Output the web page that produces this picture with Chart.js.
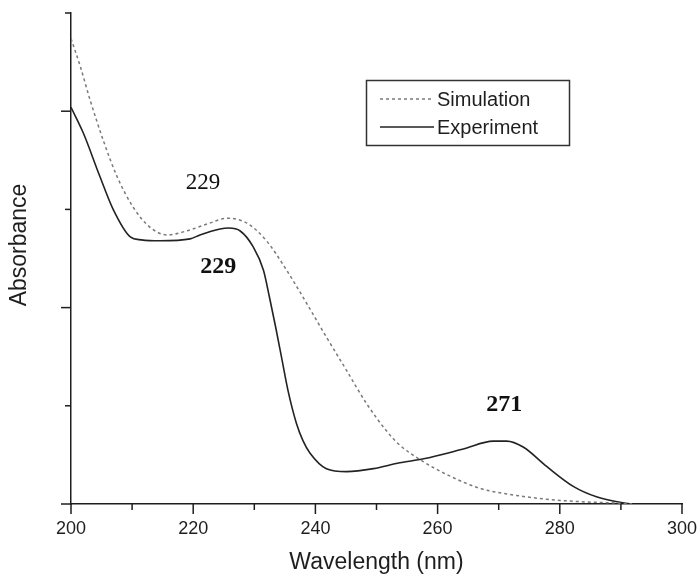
<!DOCTYPE html>
<html>
<head>
<meta charset="utf-8">
<script src="https://cdn.jsdelivr.net/npm/chart.js@4.4.1/dist/chart.umd.min.js"></script>
<style>
  html, body { margin: 0; padding: 0; background: #fff; }
  #wrap { width: 697px; height: 576px; }
</style>
</head>
<body>
<div id="wrap"><canvas id="chart" width="697" height="576"></canvas></div>
<script>
// Experiment spectrum
const expWavelength = [200, 202, 204.7, 206.9, 209.7, 211.5, 214.6, 219.5, 221.1, 224.4, 225.8, 227.7, 229.8, 231.5, 232.5, 233.5, 234.5, 235.5, 236.9, 238.0, 239.1, 241.8, 245.1, 249.5, 253.8, 257.7, 264.2, 269.1, 271.3, 274.0, 277.9, 282.2, 286.0, 290.8, 291.8];
const expAbsorbance = [2.02, 1.89, 1.67, 1.50, 1.36, 1.345, 1.34, 1.35, 1.37, 1.40, 1.405, 1.39, 1.31, 1.19, 1.05, 0.90, 0.74, 0.58, 0.41, 0.32, 0.26, 0.18, 0.165, 0.18, 0.21, 0.23, 0.28, 0.32, 0.32, 0.29, 0.19, 0.09, 0.037, 0.004, 0];

// Simulated spectrum
const simWavelength = [200, 201.5, 203.1, 205.3, 207.5, 210.2, 212.9, 215.7, 218.9, 222.7, 225.5, 228.8, 232.0, 235.3, 238.6, 241.8, 245.1, 248.4, 251.7, 253.8, 257.7, 261.5, 266.9, 272.4, 277.9, 283.3, 289.9, 291.8];
const simAbsorbance = [2.37, 2.23, 2.06, 1.85, 1.67, 1.51, 1.41, 1.37, 1.39, 1.43, 1.455, 1.43, 1.34, 1.19, 1.02, 0.85, 0.68, 0.51, 0.37, 0.30, 0.215, 0.15, 0.08, 0.046, 0.024, 0.012, 0.004, 0];

// Labelled x ticks
const xMajorTicks = [200, 220, 240, 260, 280, 300];

// Peak labels (text, wavelength, absorbance, bold)
const peakText = ['229', '229', '271'];
const peakWavelength = [221.6, 224.1, 270.9];
const peakAbsorbance = [1.634, 1.21, 0.507];
const peakBold = [false, true, true];

const SANS = '"Liberation Sans", Arial, sans-serif';
const SERIF = '"Liberation Serif", "Times New Roman", serif';
const INK = '#1e1e1e';

function toPoints(xs, ys) {
  return xs.map((x, i) => ({ x: x, y: ys[i] }));
}

// Ticks, legend, axis title and peak labels
const decoraciones = {
  id: 'decoraciones',
  afterDraw(chart) {
    const ctx = chart.ctx;
    const sx = chart.scales.x;
    const sy = chart.scales.y;
    ctx.save();
    ctx.strokeStyle = INK;
    ctx.lineWidth = 1.5;

    // x tick marks (major longer)
    sx.ticks.forEach(t => {
      const px = sx.getPixelForValue(t.value);
      const len = xMajorTicks.includes(t.value) ? 10 : 6;
      ctx.beginPath();
      ctx.moveTo(px, sy.bottom);
      ctx.lineTo(px, sy.bottom + len);
      ctx.stroke();
    });
    // y tick marks
    sy.ticks.forEach(t => {
      const py = sy.getPixelForValue(t.value);
      const len = Number.isInteger(t.value) ? 10 : 6;
      ctx.beginPath();
      ctx.moveTo(sx.left, py);
      ctx.lineTo(sx.left - len, py);
      ctx.stroke();
    });

    // y title
    ctx.save();
    ctx.translate(20, 245);
    ctx.rotate(-Math.PI / 2);
    ctx.fillStyle = INK;
    ctx.font = '23px ' + SANS;
    ctx.textAlign = 'center';
    ctx.textBaseline = 'middle';
    ctx.fillText('Absorbance', 0, 0);
    ctx.restore();

    // legend
    ctx.strokeStyle = '#333';
    ctx.lineWidth = 1.5;
    ctx.strokeRect(366.5, 80.5, 203, 65);
    const filas = [99, 127];
    ctx.font = '20px ' + SANS;
    ctx.textBaseline = 'middle';
    ctx.textAlign = 'left';
    chart.data.datasets.forEach((ds, i) => {
      ctx.save();
      ctx.strokeStyle = ds.borderColor;
      ctx.lineWidth = ds.borderWidth;
      ctx.setLineDash(ds.borderDash || []);
      ctx.beginPath();
      ctx.moveTo(380, filas[i]);
      ctx.lineTo(434, filas[i]);
      ctx.stroke();
      ctx.restore();
      ctx.fillStyle = INK;
      ctx.fillText(ds.label, 437, filas[i] + 1);
    });

    // peak labels
    ctx.textAlign = 'center';
    ctx.fillStyle = '#111';
    peakText.forEach((txt, i) => {
      ctx.font = (peakBold[i] ? 'bold 24px ' : '23px ') + SERIF;
      ctx.fillText(txt, sx.getPixelForValue(peakWavelength[i]), sy.getPixelForValue(peakAbsorbance[i]));
    });
    ctx.restore();
  }
};

const chart = new Chart(document.getElementById('chart').getContext('2d'), {
  type: 'line',
  data: {
    datasets: [
      {
        label: 'Simulation',
        data: toPoints(simWavelength, simAbsorbance),
        borderColor: '#7a7a7a',
        borderWidth: 1.5,
        borderDash: [3, 3],
        cubicInterpolationMode: 'monotone',
        pointRadius: 0,
        fill: false
      },
      {
        label: 'Experiment',
        data: toPoints(expWavelength, expAbsorbance),
        borderColor: '#222222',
        borderWidth: 1.6,
        cubicInterpolationMode: 'monotone',
        pointRadius: 0,
        fill: false
      }
    ]
  },
  options: {
    responsive: false,
    animation: false,
    layout: { padding: { top: 13, right: 15, left: 0, bottom: 0 } },
    plugins: {
      legend: { display: false },
      tooltip: { enabled: false }
    },
    scales: {
      x: {
        type: 'linear',
        min: 200,
        max: 300,
        grid: { display: false, drawTicks: false },
        border: { display: true, color: INK, width: 1.5 },
        ticks: {
          stepSize: 10,
          autoSkip: false,
          maxRotation: 0,
          padding: 14,
          color: INK,
          font: { family: SANS, size: 18 },
          callback: v => xMajorTicks.includes(v) ? String(v) : ''
        },
        title: {
          display: true,
          text: 'Wavelength (nm)',
          color: INK,
          font: { family: SANS, size: 23 },
          padding: { top: 0, bottom: 0 }
        },
        afterFit: s => {
          s.height = 72;
          s.paddingLeft = 0;
          s.paddingRight = 0;
        }
      },
      y: {
        type: 'linear',
        min: 0,
        max: 2.5,
        grid: { display: false, drawTicks: false },
        border: { display: true, color: INK, width: 1.5 },
        ticks: { display: false, stepSize: 0.5 },
        afterFit: s => { s.width = 71; }
      }
    }
  },
  plugins: [decoraciones]
});
</script>
</body>
</html>
